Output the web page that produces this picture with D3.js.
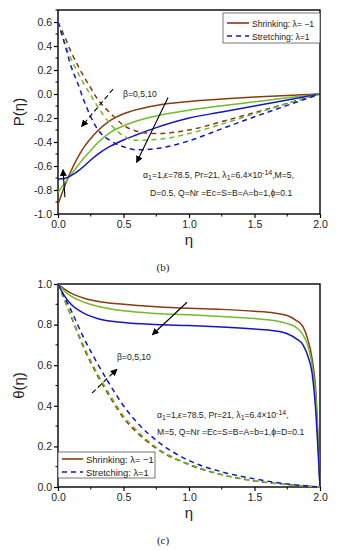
<!DOCTYPE html>
<html>
<head>
<meta charset="utf-8">
<script src="https://cdn.jsdelivr.net/npm/d3@7"></script>
<style>
  body { margin: 0; background: #fff; }
  text { font-family: "Liberation Sans", Arial, sans-serif; }
</style>
</head>
<body>
<div id="chart"></div>
<script>
// eta grid for panel (b)
var etaB = [0, 0.05, 0.1, 0.15, 0.2, 0.25, 0.3, 0.4, 0.5, 0.6, 0.75, 1.0, 1.25, 1.5, 1.75, 2.0];
// P(eta), shrinking (solid) for beta = 0, 5, 10
var pShrink0  = [-0.92, -0.77, -0.64, -0.53, -0.44, -0.37, -0.31, -0.22, -0.165, -0.13, -0.095, -0.062, -0.042, -0.026, -0.012, 0];
var pShrink5  = [-0.82, -0.745, -0.67, -0.6, -0.53, -0.47, -0.41, -0.32, -0.265, -0.225, -0.183, -0.135, -0.098, -0.065, -0.032, 0];
var pShrink10 = [-0.71, -0.705, -0.68, -0.645, -0.6, -0.55, -0.505, -0.435, -0.383, -0.34, -0.28, -0.2, -0.15, -0.1, -0.05, 0];
// P(eta), stretching (dashed)
var pStretch0  = [0.6, 0.48, 0.35, 0.24, 0.14, 0.05, -0.04, -0.16, -0.26, -0.31, -0.33, -0.3, -0.23, -0.155, -0.078, 0];
var pStretch5  = [0.6, 0.43, 0.29, 0.18, 0.08, -0.01, -0.1, -0.25, -0.35, -0.385, -0.38, -0.33, -0.25, -0.165, -0.08, 0];
var pStretch10 = [0.6, 0.42, 0.23, 0.09, -0.06, -0.19, -0.29, -0.39, -0.44, -0.465, -0.455, -0.39, -0.29, -0.19, -0.095, 0];

// eta grid for panel (c) solid lines
var etaC = [0, 0.05, 0.1, 0.2, 0.3, 0.5, 0.75, 1.0, 1.25, 1.5, 1.65, 1.75, 1.82, 1.87, 1.91, 1.94, 1.97, 1.99, 2.0];
var thShrink0  = [1, 0.975, 0.955, 0.93, 0.915, 0.9, 0.888, 0.88, 0.875, 0.866, 0.857, 0.845, 0.82, 0.79, 0.72, 0.63, 0.45, 0.16, 0];
var thShrink5  = [1, 0.965, 0.94, 0.91, 0.89, 0.868, 0.855, 0.848, 0.84, 0.83, 0.82, 0.805, 0.785, 0.75, 0.69, 0.6, 0.42, 0.15, 0];
var thShrink10 = [1, 0.94, 0.9, 0.855, 0.83, 0.81, 0.8, 0.795, 0.788, 0.778, 0.77, 0.755, 0.73, 0.7, 0.64, 0.56, 0.35, 0.12, 0];
// eta grid for panel (c) dashed lines
var etaC2 = [0, 0.1, 0.2, 0.3, 0.4, 0.5, 0.6, 0.75, 1.0, 1.25, 1.5, 1.75, 2.0];
var thStretch0  = [1, 0.84, 0.68, 0.55, 0.44, 0.34, 0.27, 0.19, 0.11, 0.06, 0.03, 0.012, 0];
var thStretch5  = [1, 0.845, 0.69, 0.56, 0.45, 0.35, 0.28, 0.195, 0.113, 0.062, 0.031, 0.012, 0];
var thStretch10 = [1, 0.87, 0.73, 0.61, 0.5, 0.4, 0.32, 0.23, 0.13, 0.075, 0.04, 0.015, 0];

var xTicks = [0, 0.5, 1.0, 1.5, 2.0];
var yTicksB = [-1.0, -0.8, -0.6, -0.4, -0.2, 0.0, 0.2, 0.4, 0.6];
var yTicksC = [0.0, 0.2, 0.4, 0.6, 0.8, 1.0];

var colors = ["#8b3a12", "#6fbb2c", "#1515c8"];

var svg = d3.select("#chart")
  .append("svg")
  .attr("width", 337)
  .attr("height", 550);

// arrowhead
svg.append("defs").append("marker")
  .attr("id", "head")
  .attr("viewBox", "0 0 10 10")
  .attr("refX", 9)
  .attr("refY", 5)
  .attr("markerWidth", 7)
  .attr("markerHeight", 7)
  .attr("markerUnits", "userSpaceOnUse")
  .attr("orient", "auto")
  .append("path")
  .attr("d", "M0,0 L10,5 L0,10 z")
  .style("fill", "#000");

function panel(box, yDomain, yTicks, yLabel, tag) {
  var x = d3.scaleLinear().domain([0, 2]).range([box.left, box.right]);
  var y = d3.scaleLinear().domain(yDomain).range([box.bottom, box.top]);
  var g = svg.append("g");

  // minor ticks
  var xMinor = d3.range(0.25, 2, 0.5);
  g.selectAll(".xminor").data(xMinor).enter().append("line")
    .attr("x1", d => x(d)).attr("x2", d => x(d))
    .attr("y1", box.bottom).attr("y2", box.bottom + 2.5)
    .style("stroke", "#000").style("stroke-width", 1);
  var yMinor = [];
  for (var i = 0; i < yTicks.length - 1; i++) yMinor.push((yTicks[i] + yTicks[i + 1]) / 2);
  if (yDomain[1] > yTicks[yTicks.length - 1]) yMinor.push(yTicks[yTicks.length - 1] + (yTicks[1] - yTicks[0]) / 2);
  g.selectAll(".yminor").data(yMinor).enter().append("line")
    .attr("x1", box.left - 2.5).attr("x2", box.left)
    .attr("y1", d => y(d)).attr("y2", d => y(d))
    .style("stroke", "#000").style("stroke-width", 1);

  var bottomAxis = d3.axisBottom(x).tickValues(xTicks).tickFormat(d3.format(".1f")).tickSize(4).tickPadding(3).tickSizeOuter(0);
  var leftAxis = d3.axisLeft(y).tickValues(yTicks).tickFormat(d3.format(".1f")).tickSize(4).tickPadding(2).tickSizeOuter(0);

  var xa = g.append("g").attr("transform", "translate(0," + box.bottom + ")").call(bottomAxis);
  var ya = g.append("g").attr("transform", "translate(" + box.left + ",0)").call(leftAxis);
  [xa, ya].forEach(function(a) {
    a.select(".domain").remove();
    a.selectAll("line").style("stroke", "#000").style("stroke-width", 1.2);
    a.selectAll("text").style("font-family", "Liberation Sans, Arial, sans-serif")
      .style("font-size", "10.5px").style("fill", "#222");
  });
  ya.selectAll("text").text(d => d < 0 ? "-" + Math.abs(d).toFixed(1) : d.toFixed(1));

  // frame
  g.append("rect")
    .attr("x", box.left).attr("y", box.top)
    .attr("width", box.right - box.left).attr("height", box.bottom - box.top)
    .style("fill", "none").style("stroke", "#000").style("stroke-width", 1.4);

  g.append("text")
    .attr("x", (box.left + box.right) / 2).attr("y", box.bottom + 31)
    .attr("text-anchor", "middle")
    .style("font-size", "15px").style("fill", "#222")
    .text("η");

  g.append("text")
    .attr("transform", "translate(" + 24 + "," + ((box.top + box.bottom) / 2) + ") rotate(-90)")
    .attr("text-anchor", "middle")
    .style("font-size", "15px").style("fill", "#222")
    .text(yLabel);

  g.append("text")
    .attr("x", (box.left + box.right) / 2 - 26).attr("y", box.bottom + 57)
    .attr("text-anchor", "middle")
    .style("font-family", "Liberation Serif, serif")
    .style("font-size", "11px").style("fill", "#222")
    .text(tag);

  return {x: x, y: y, g: g};
}

function drawCurve(p, xs, ys, color, dashed) {
  var line = d3.line()
    .x(d => p.x(d[0]))
    .y(d => p.y(d[1]))
    .curve(d3.curveMonotoneX);
  p.g.append("path")
    .datum(xs.map((v, i) => [v, ys[i]]))
    .attr("d", line)
    .style("fill", "none")
    .style("stroke", color)
    .style("stroke-width", 1.5)
    .style("stroke-dasharray", dashed ? "5,4" : null);
}

function arrow(p, x1, y1, x2, y2, dashed) {
  p.g.append("line")
    .attr("x1", p.x(x1)).attr("y1", p.y(y1))
    .attr("x2", p.x(x2)).attr("y2", p.y(y2))
    .style("stroke", "#000").style("stroke-width", 1.1)
    .style("stroke-dasharray", dashed ? "5,3" : null)
    .attr("marker-end", "url(#head)");
}

function note(p, xPos, yPos, parts) {
  var t = p.g.append("text")
    .attr("x", xPos).attr("y", yPos)
    .style("font-size", "8.6px").style("fill", "#222");
  parts.forEach(function(s) {
    var ts = t.append("tspan").text(s[0]);
    if (s[1] === "sub") ts.attr("baseline-shift", "-25%").style("font-size", "7px");
    if (s[1] === "sup") ts.attr("baseline-shift", "45%").style("font-size", "7px");
  });
}

function legend(p, lx, ly, w, h, sizes) {
  p.g.append("rect")
    .attr("x", lx).attr("y", ly).attr("width", w).attr("height", h)
    .style("fill", "#fff").style("stroke", "#555").style("stroke-width", 0.8);
  var items = [["Shrinking: λ= −1", colors[0], false], ["Stretching: λ=1", colors[2], true]];
  items.forEach(function(it, i) {
    var yy = ly + sizes.first + i * sizes.step;
    p.g.append("line")
      .attr("x1", lx + 4).attr("x2", lx + 4 + sizes.len)
      .attr("y1", yy).attr("y2", yy)
      .style("stroke", it[1]).style("stroke-width", 1.6)
      .style("stroke-dasharray", it[2] ? "5,4" : null);
    p.g.append("text")
      .attr("x", lx + 7 + sizes.len).attr("y", yy + 3.5)
      .style("font-size", sizes.font + "px").style("fill", "#222")
      .text(it[0]);
  });
}

// ---------- panel (b) ----------
var pb = panel({left: 58, right: 320, top: 10, bottom: 214}, [-1.0, 0.7], yTicksB, "P(η)", "(b)");
[pShrink0, pShrink5, pShrink10].forEach((s, i) => drawCurve(pb, etaB, s, colors[i], false));
[pStretch0, pStretch5, pStretch10].forEach((s, i) => drawCurve(pb, etaB, s, colors[i], true));
arrow(pb, 0.42, 0.04, 0.18, -0.27, true);
arrow(pb, 0.84, -0.03, 0.60, -0.57, false);
arrow(pb, 0.053, -0.86, 0.038, -0.63, false);
pb.g.append("text").attr("x", 123).attr("y", 97)
  .style("font-size", "8.6px").style("fill", "#222").text("β=0,5,10");
note(pb, 143, 178, [["α"], ["1", "sub"], ["=1,ε=78.5, Pr=21, λ"], ["1", "sub"], ["=6.4×10"], ["-14", "sup"], [",M=5,"]]);
note(pb, 150, 196, [["D=0.5, Q=Nr =Ec=S=B=A=b=1,ϕ=0.1"]]);
legend(pb, 223, 13, 97, 30, {first: 10, step: 13, len: 22, font: 8.6});

// ---------- panel (c) ----------
var pc = panel({left: 58, right: 320, top: 284, bottom: 487}, [0, 1.0], yTicksC, "θ(η)", "(c)");
[thShrink0, thShrink5, thShrink10].forEach((s, i) => drawCurve(pc, etaC, s, colors[i], false));
[thStretch0, thStretch5, thStretch10].forEach((s, i) => drawCurve(pc, etaC2, s, colors[i], true));
arrow(pc, 0.985, 0.91, 0.72, 0.75, false);
arrow(pc, 0.26, 0.463, 0.45, 0.58, true);
pc.g.append("text").attr("x", 117).attr("y", 360)
  .style("font-size", "8.6px").style("fill", "#222").text("β=0,5,10");
note(pc, 157, 418, [["α"], ["1", "sub"], ["=1,ε=78.5, Pr=21, λ"], ["1", "sub"], ["=6.4×10"], ["-14", "sup"], [","]]);
note(pc, 157, 435, [["M=5, Q=Nr =Ec=S=B=A=b=1,ϕ=D=0.1"]]);
legend(pc, 58, 452, 97, 26, {first: 7, step: 13, len: 21, font: 9.4});
</script>
</body>
</html>
